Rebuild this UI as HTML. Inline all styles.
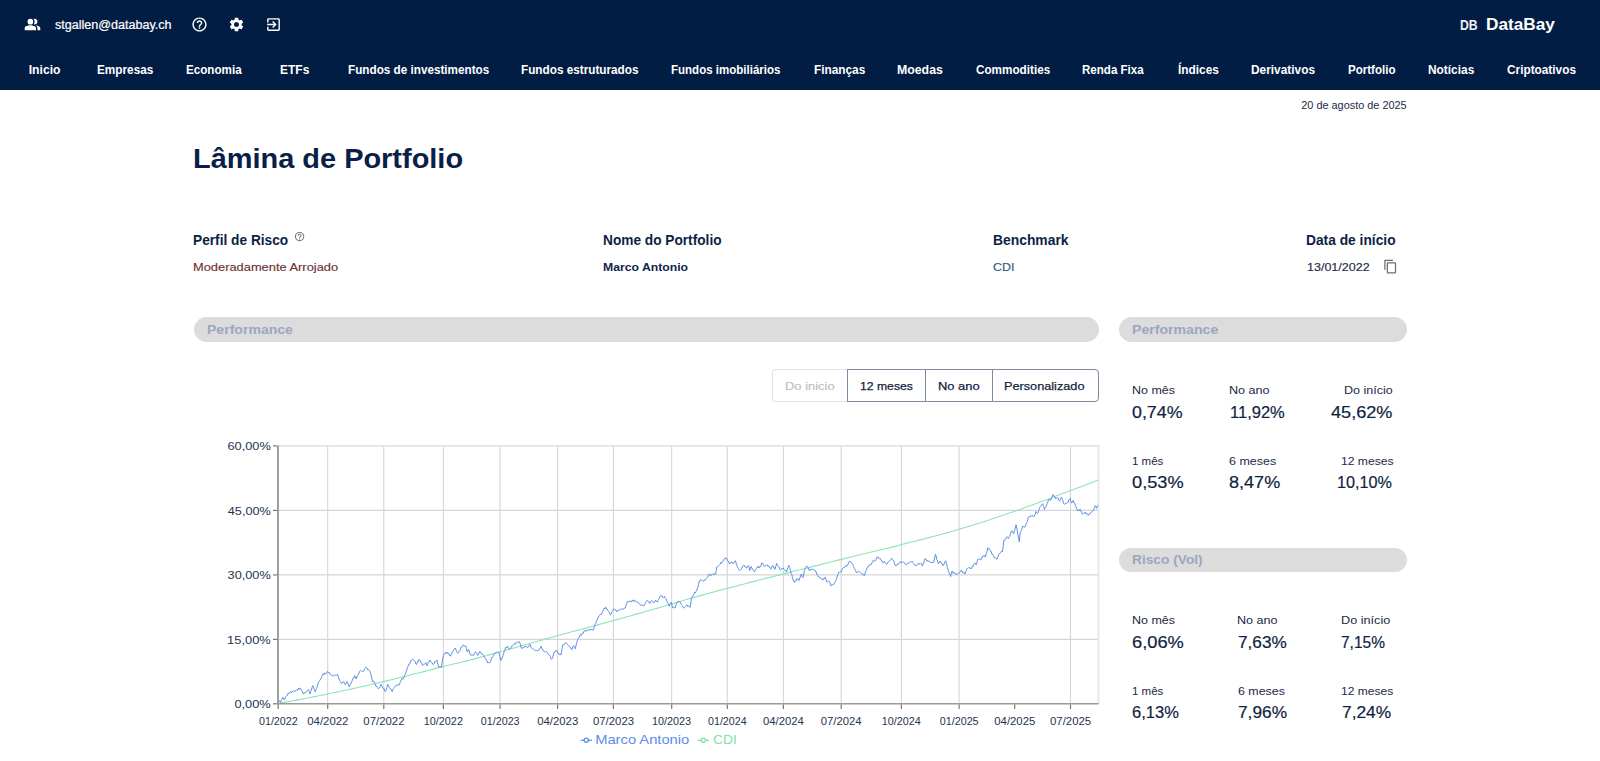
<!DOCTYPE html>
<html lang="pt-BR">
<head>
<meta charset="utf-8">
<title>DataBay - Lâmina de Portfolio</title>
<style>
*{box-sizing:border-box;margin:0;padding:0}
html,body{width:1600px;height:761px;overflow:hidden;background:#fff}
body{font-family:"Liberation Sans",sans-serif;position:relative;color:#0c1f45;-webkit-font-smoothing:antialiased}
span,h1,a,button,p{position:absolute;transform-origin:0 0;white-space:nowrap;font-weight:400;font-family:inherit;background:none;border:0;text-decoration:none;display:block}
header{position:absolute;left:0;top:0;width:1600px;height:90px;background:#021d44}
header svg{position:absolute;fill:#fff}
main{position:absolute;left:0;top:90px;width:1600px;height:671px}
main>section,main>div{position:absolute;left:0;top:-90px;width:1600px;height:761px;pointer-events:none}
.ico{position:absolute}
.pill{position:absolute;background:#dcdcdc;border-radius:13px}
.bg{position:absolute;top:369px;height:33.4px;border:1px solid #7f899f;background:#fff}
.bg.dis{border-color:#e2e3e6}
svg.chart{position:absolute;left:0;top:0}
</style>
</head>
<body>
<header>
<svg class="ico" style="left:24.3px;top:15.9px" width="17" height="17" viewBox="0 0 24 24"><path fill-rule="evenodd" d="M16.67 13.13C18.04 14.06 19 15.32 19 17v3h4v-3c0-2.18-3.57-3.47-6.33-3.87z"/><circle cx="9" cy="8" r="4"/><path fill-rule="evenodd" d="M9 13c-2.67 0-8 1.34-8 4v3h16v-3c0-2.66-5.33-4-8-4zm6-1c2.21 0 4-1.79 4-4s-1.79-4-4-4c-.47 0-.91.1-1.33.24C14.5 5.27 15 6.58 15 8s-.5 2.73-1.33 3.76c.42.14.86.24 1.33.24z"/></svg>
<svg class="ico" style="left:191.1px;top:15.9px" width="17" height="17" viewBox="0 0 24 24"><path d="M11 18h2v-2h-2v2zm1-16C6.48 2 2 6.48 2 12s4.48 10 10 10 10-4.48 10-10S17.52 2 12 2zm0 18c-4.41 0-8-3.59-8-8s3.59-8 8-8 8 3.59 8 8-3.59 8-8 8zm0-14c-2.21 0-4 1.79-4 4h2c0-1.1.9-2 2-2s2 .9 2 2c0 2-3 1.75-3 5h2c0-2.25 3-2.5 3-5 0-2.21-1.79-4-4-4z"/></svg>
<svg class="ico" style="left:228.3px;top:15.95px" width="17" height="17" viewBox="0 0 24 24"><path d="M19.14 12.94c.04-.3.06-.61.06-.94 0-.32-.02-.64-.07-.94l2.03-1.58c.18-.14.23-.41.12-.61l-1.92-3.32c-.12-.22-.37-.29-.59-.22l-2.39.96c-.5-.38-1.03-.7-1.62-.94l-.36-2.54c-.04-.24-.24-.41-.48-.41h-3.84c-.24 0-.43.17-.47.41l-.36 2.54c-.59.24-1.13.57-1.62.94l-2.39-.96c-.22-.08-.47 0-.59.22L2.74 8.87c-.12.21-.08.47.12.61l2.03 1.58c-.05.3-.09.63-.09.94s.02.64.07.94l-2.03 1.58c-.18.14-.23.41-.12.61l1.92 3.32c.12.22.37.29.59.22l2.39-.96c.5.38 1.03.7 1.62.94l.36 2.54c.05.24.24.41.48.41h3.84c.24 0 .44-.17.47-.41l.36-2.54c.59-.24 1.13-.56 1.62-.94l2.39.96c.22.08.47 0 .59-.22l1.92-3.32c.12-.22.07-.47-.12-.61l-2.01-1.58zM12 15.6c-1.98 0-3.6-1.62-3.6-3.6s1.62-3.6 3.6-3.6 3.6 1.62 3.6 3.6-1.62 3.6-3.6 3.6z"/></svg>
<svg class="ico" style="left:265.25px;top:15.95px" width="17" height="17" viewBox="0 0 24 24"><path d="M10.09 15.59L11.5 17l5-5-5-5-1.41 1.41L12.67 11H3v2h9.67l-2.58 2.59zM19 3H5c-1.11 0-2 .9-2 2v4h2V5h14v14H5v-4H3v4c0 1.1.89 2 2 2h14c1.1 0 2-.9 2-2V5c0-1.1-.9-2-2-2z"/></svg>
<span style="left:54.65px;top:17.00px;font-size:12.3px;line-height:16px;color:#ffffff;-webkit-text-stroke:0.2px #ffffff;transform:scaleX(1.0214);">stgallen@databay.ch</span>
<span style="left:1460.18px;top:16.00px;font-size:14.3px;line-height:19px;color:#eef1f7;font-weight:700;transform:scaleX(0.8556);">DB</span>
<span style="left:1486.15px;top:14.00px;font-size:16.7px;line-height:22px;color:#ffffff;font-weight:700;transform:scaleX(1.0322);">DataBay</span>
<nav>
<a style="left:28.68px;top:62.00px;font-size:12.2px;line-height:16px;color:#ffffff;font-weight:700;">Inicio</a>
<a style="left:97.21px;top:62.00px;font-size:12.2px;line-height:16px;color:#ffffff;font-weight:700;transform:scaleX(0.9658);">Empresas</a>
<a style="left:185.72px;top:62.00px;font-size:12.2px;line-height:16px;color:#ffffff;font-weight:700;transform:scaleX(0.9563);">Economia</a>
<a style="left:280.20px;top:62.00px;font-size:12.2px;line-height:16px;color:#ffffff;font-weight:700;transform:scaleX(0.9831);">ETFs</a>
<a style="left:347.97px;top:62.00px;font-size:12.2px;line-height:16px;color:#ffffff;font-weight:700;transform:scaleX(0.9613);">Fundos de investimentos</a>
<a style="left:521.21px;top:62.00px;font-size:12.2px;line-height:16px;color:#ffffff;font-weight:700;transform:scaleX(0.9641);">Fundos estruturados</a>
<a style="left:670.98px;top:62.00px;font-size:12.2px;line-height:16px;color:#ffffff;font-weight:700;transform:scaleX(0.9456);">Fundos imobiliários</a>
<a style="left:813.71px;top:62.00px;font-size:12.2px;line-height:16px;color:#ffffff;font-weight:700;transform:scaleX(0.9704);">Finanças</a>
<a style="left:897.18px;top:62.00px;font-size:12.2px;line-height:16px;color:#ffffff;font-weight:700;transform:scaleX(1.0097);">Moedas</a>
<a style="left:975.77px;top:62.00px;font-size:12.2px;line-height:16px;color:#ffffff;font-weight:700;transform:scaleX(0.9613);">Commodities</a>
<a style="left:1082.48px;top:62.00px;font-size:12.2px;line-height:16px;color:#ffffff;font-weight:700;transform:scaleX(0.9488);">Renda Fixa</a>
<a style="left:1177.65px;top:62.00px;font-size:12.2px;line-height:16px;color:#ffffff;font-weight:700;transform:scaleX(0.9724);">Índices</a>
<a style="left:1250.95px;top:62.00px;font-size:12.2px;line-height:16px;color:#ffffff;font-weight:700;transform:scaleX(0.9743);">Derivativos</a>
<a style="left:1347.98px;top:62.00px;font-size:12.2px;line-height:16px;color:#ffffff;font-weight:700;transform:scaleX(0.9474);">Portfolio</a>
<a style="left:1427.95px;top:62.00px;font-size:12.2px;line-height:16px;color:#ffffff;font-weight:700;transform:scaleX(0.9760);">Notícias</a>
<a style="left:1506.51px;top:62.00px;font-size:12.2px;line-height:16px;color:#ffffff;font-weight:700;transform:scaleX(0.9699);">Criptoativos</a>
</nav>
</header>
<main>
<div class="pagehead">
<span style="left:1301.25px;top:98.00px;font-size:10.9px;line-height:14px;color:#1d2b49;">20 de agosto de 2025</span>
<h1 style="left:192.66px;top:141.00px;font-size:27.6px;line-height:36px;color:#0a1f47;font-weight:700;transform:scaleX(1.0485);">Lâmina de Portfolio</h1>
</div>
<section class="info">
<span style="left:192.83px;top:231.00px;font-size:14.0px;line-height:18px;color:#0d1f44;font-weight:700;transform:scaleX(0.9788);">Perfil de Risco</span>
<span style="left:192.69px;top:260.00px;font-size:11.8px;line-height:15px;color:#6f2f33;-webkit-text-stroke:0.15px #6f2f33;transform:scaleX(1.0899);">Moderadamente Arrojado</span>
<span style="left:602.58px;top:231.00px;font-size:14.0px;line-height:18px;color:#0d1f44;font-weight:700;transform:scaleX(0.9771);">Nome do Portfolio</span>
<span style="left:602.68px;top:260.00px;font-size:11.8px;line-height:15px;color:#10254d;font-weight:700;transform:scaleX(1.0354);">Marco Antonio</span>
<span style="left:992.57px;top:231.00px;font-size:14.0px;line-height:18px;color:#0d1f44;font-weight:700;transform:scaleX(0.9901);">Benchmark</span>
<span style="left:992.87px;top:260.00px;font-size:11.8px;line-height:15px;color:#315486;-webkit-text-stroke:0.15px #315486;transform:scaleX(1.0515);">CDI</span>
<span style="left:1306.18px;top:231.00px;font-size:14.0px;line-height:18px;color:#0d1f44;font-weight:700;transform:scaleX(0.9838);">Data de início</span>
<span style="left:1306.55px;top:260.00px;font-size:11.8px;line-height:15px;color:#1f2c47;-webkit-text-stroke:0.15px #1f2c47;transform:scaleX(1.0616);">13/01/2022</span>
<svg class="ico" style="left:293.8px;top:230.8px;fill:#6c6c6c" width="11.2" height="11.2" viewBox="0 0 24 24"><path d="M11 18h2v-2h-2v2zm1-16C6.48 2 2 6.48 2 12s4.48 10 10 10 10-4.48 10-10S17.52 2 12 2zm0 18c-4.41 0-8-3.59-8-8s3.59-8 8-8 8 3.59 8 8-3.59 8-8 8zm0-14c-2.210 0-4 1.79-4 4h2c0-1.1.9-2 2-2s2 .9 2 2c0 2-3 1.75-3 5h2c0-2.25 3-2.5 3-5 0-2.210-1.790-4-4-4z"/></svg>
<svg class="ico" style="left:1383.35px;top:259.3px;fill:#6e6e6e" width="15" height="15" viewBox="0 0 24 24"><path d="M16 1H4c-1.100 0-2 .9-2 2v14h2V3h12V1zm3 4H8c-1.100 0-2 .9-2 2v14c0 1.100.9 2 2 2h11c1.100 0 2-.9 2-2V7c0-1.100-.9-2-2-2zm0 16H8V7h11v14z"/></svg>
</section>
<section class="chart-card">
<div class="pill" style="left:193.8px;top:317.2px;width:905px;height:24.7px"></div>
<span style="left:206.76px;top:321.00px;font-size:13.3px;line-height:17px;color:#9ba7bf;font-weight:700;transform:scaleX(1.0569);">Performance</span>
<div class="bg dis" style="left:772.2px;width:76px;border-radius:4px 0 0 4px;border-right:0"></div>
<div class="bg" style="left:846.7px;width:79.2px"></div>
<div class="bg" style="left:924.9px;width:68.1px"></div>
<div class="bg" style="left:992px;width:107px;border-radius:0 4px 4px 0"></div>
<span style="left:784.59px;top:379.00px;font-size:11.8px;line-height:15px;color:#bdbdbd;-webkit-text-stroke:0.15px #bdbdbd;transform:scaleX(1.0974);">Do inicio</span>
<span style="left:859.77px;top:379.00px;font-size:11.8px;line-height:15px;color:#14233f;-webkit-text-stroke:0.25px #14233f;transform:scaleX(1.0335);">12 meses</span>
<span style="left:937.64px;top:379.00px;font-size:11.8px;line-height:15px;color:#14233f;-webkit-text-stroke:0.25px #14233f;transform:scaleX(1.0934);">No ano</span>
<span style="left:1004.46px;top:379.00px;font-size:11.8px;line-height:15px;color:#14233f;-webkit-text-stroke:0.25px #14233f;transform:scaleX(1.0764);">Personalizado</span>
<svg class="chart" width="1600" height="761" viewBox="0 0 1600 761" font-family="Liberation Sans, sans-serif">
<g class="grid" stroke="#d5d5d5" stroke-width="1.1" fill="none">
<line x1="278.0" y1="510.4" x2="1098.5" y2="510.4"/>
<line x1="278.0" y1="574.9" x2="1098.5" y2="574.9"/>
<line x1="278.0" y1="639.4" x2="1098.5" y2="639.4"/>
<line x1="327.7" y1="445.9" x2="327.7" y2="703.8"/>
<line x1="383.8" y1="445.9" x2="383.8" y2="703.8"/>
<line x1="443.4" y1="445.9" x2="443.4" y2="703.8"/>
<line x1="500.1" y1="445.9" x2="500.1" y2="703.8"/>
<line x1="557.6" y1="445.9" x2="557.6" y2="703.8"/>
<line x1="613.4" y1="445.9" x2="613.4" y2="703.8"/>
<line x1="671.7" y1="445.9" x2="671.7" y2="703.8"/>
<line x1="727.3" y1="445.9" x2="727.3" y2="703.8"/>
<line x1="783.4" y1="445.9" x2="783.4" y2="703.8"/>
<line x1="841.2" y1="445.9" x2="841.2" y2="703.8"/>
<line x1="901.4" y1="445.9" x2="901.4" y2="703.8"/>
<line x1="959.1" y1="445.9" x2="959.1" y2="703.8"/>
<line x1="1070.5" y1="445.9" x2="1070.5" y2="703.8"/>
</g>
<path d="M278.0 445.9H1098.5V703.8" stroke="#e4e4e4" stroke-width="1.7" fill="none"/>
<polyline class="cdi" points="278.3,703.5 280.6,703.1 283.5,702.5 286.9,701.9 290.7,701.2 294.8,700.4 299.2,699.6 303.8,698.7 308.5,697.8 313.3,696.9 318.0,696.0 322.7,695.0 327.2,694.1 331.0,693.3 334.8,692.5 338.7,691.7 342.7,690.8 346.7,690.0 350.7,689.1 354.8,688.2 358.9,687.3 363.0,686.4 367.1,685.5 371.2,684.5 375.4,683.5 379.5,682.6 383.7,681.6 387.9,680.6 392.3,679.5 396.7,678.4 401.2,677.3 405.8,676.2 410.3,675.0 414.8,673.8 419.3,672.7 423.7,671.6 428.0,670.5 432.2,669.4 436.2,668.4 439.9,667.4 443.5,666.5 448.4,665.3 452.4,664.3 455.9,663.5 459.1,662.7 462.2,662.0 465.7,661.1 469.6,660.2 474.3,658.9 480.0,657.4 483.1,656.5 486.5,655.6 490.2,654.6 494.0,653.5 498.0,652.4 502.2,651.3 506.5,650.0 510.8,648.8 515.3,647.6 519.8,646.3 524.3,645.0 528.8,643.7 533.2,642.5 537.6,641.3 541.9,640.1 546.0,638.9 550.0,637.8 553.9,636.7 557.5,635.7 562.5,634.3 567.3,633.0 571.8,631.8 576.2,630.6 580.5,629.5 584.6,628.4 588.7,627.3 592.7,626.2 596.8,625.1 600.8,624.0 604.9,622.9 609.1,621.8 613.4,620.6 617.6,619.4 621.9,618.2 626.4,617.0 630.9,615.7 635.5,614.4 640.1,613.1 644.6,611.8 649.1,610.5 653.4,609.3 657.5,608.1 661.4,607.0 665.0,606.0 668.3,605.0 671.2,604.2 678.2,602.1 681.9,601.0 684.9,600.0 690.0,598.5 693.2,597.6 696.7,596.6 700.4,595.6 704.4,594.5 708.5,593.4 712.9,592.2 717.6,590.9 722.4,589.6 727.5,588.3 730.9,587.4 734.5,586.5 738.3,585.5 742.1,584.5 746.1,583.5 750.2,582.4 754.3,581.4 758.5,580.3 762.7,579.2 766.9,578.1 771.2,577.1 775.3,576.0 779.5,574.9 783.6,573.9 787.7,572.9 791.7,571.8 795.8,570.8 799.9,569.8 804.0,568.7 808.1,567.7 812.2,566.6 816.3,565.6 820.4,564.6 824.5,563.5 828.7,562.5 832.8,561.5 836.9,560.4 841.1,559.4 845.3,558.4 849.4,557.3 853.6,556.3 857.8,555.3 862.0,554.3 866.2,553.3 870.5,552.3 874.7,551.3 878.9,550.2 883.1,549.2 887.3,548.2 891.6,547.1 895.8,546.1 900.0,545.0 904.2,543.9 908.5,542.8 912.7,541.8 916.9,540.7 921.2,539.6 925.5,538.5 929.7,537.4 933.9,536.3 938.2,535.2 942.4,534.0 946.6,532.9 950.8,531.7 955.0,530.5 959.1,529.3 963.2,528.1 967.3,526.8 971.4,525.6 975.5,524.3 979.5,523.0 983.6,521.7 987.6,520.4 991.6,519.1 995.6,517.7 999.6,516.4 1003.6,515.0 1007.6,513.7 1011.6,512.3 1015.6,510.9 1020.0,509.4 1024.4,507.8 1029.0,506.1 1033.6,504.4 1038.2,502.7 1042.7,501.1 1047.2,499.4 1051.6,497.7 1055.9,496.1 1060.0,494.6 1063.8,493.1 1067.5,491.8 1070.8,490.5 1077.3,488.1 1083.1,485.9 1088.0,484.0 1092.3,482.4 1095.7,481.0 1098.4,480.0" fill="none" stroke="#8fe3b8" stroke-width="1.1" stroke-linejoin="round"/>
<polyline class="portfolio" points="278.5,702.0 279.2,700.7 279.9,701.3 280.5,702.6 281.2,700.2 281.8,699.4 282.5,697.4 283.1,697.4 283.8,699.2 284.5,700.0 285.1,698.4 285.8,696.5 286.4,696.1 287.1,695.4 287.7,693.8 288.4,694.0 289.1,692.6 289.7,692.8 290.4,691.7 291.0,692.1 291.7,692.7 292.3,691.0 293.0,691.5 293.7,690.7 294.3,691.2 295.0,691.6 295.6,690.6 296.3,690.2 296.9,689.6 297.6,690.5 298.3,688.3 298.9,689.6 299.6,688.1 300.2,688.2 300.9,688.8 301.5,690.1 302.2,691.7 302.9,693.4 303.5,693.9 304.2,692.5 304.8,693.1 305.5,692.8 306.1,692.2 306.8,690.9 307.5,690.4 308.1,689.5 308.8,690.2 309.4,691.7 310.1,694.1 310.7,691.4 311.4,690.2 312.0,687.5 312.7,685.6 313.4,686.8 314.0,689.0 314.7,690.4 315.3,692.1 316.0,689.6 316.6,688.4 317.3,686.1 318.0,683.6 318.6,681.9 319.3,681.4 319.9,680.2 320.6,679.0 321.2,678.2 321.9,676.4 322.6,674.4 323.2,673.8 323.9,675.0 324.5,673.1 325.2,673.7 325.8,673.1 326.5,673.3 327.2,671.6 327.8,671.8 328.5,672.4 329.1,672.2 329.8,674.1 330.4,674.4 331.1,675.2 331.8,675.2 332.4,676.1 333.1,675.7 333.7,675.2 334.4,675.8 335.0,675.4 335.7,675.0 336.4,675.0 337.0,674.5 337.7,674.4 338.3,677.0 339.0,679.2 339.6,680.3 340.3,681.3 341.0,682.8 341.6,683.6 342.3,682.1 342.9,682.7 343.6,681.6 344.2,682.8 344.9,684.4 345.6,684.2 346.2,683.6 346.9,681.6 347.5,682.5 348.2,684.0 348.8,685.9 349.5,686.9 350.2,684.4 350.8,683.8 351.5,681.8 352.1,681.0 352.8,678.9 353.4,677.4 354.1,677.6 354.8,675.7 355.4,676.6 356.1,679.0 356.7,677.0 357.4,675.7 358.0,674.4 358.7,674.1 359.4,671.6 360.0,671.3 360.7,670.4 361.3,670.7 362.0,671.5 362.6,671.6 363.3,671.1 364.0,670.8 364.6,668.7 365.3,668.0 365.9,667.2 366.6,667.5 367.2,669.2 367.9,670.0 368.6,669.8 369.2,670.2 369.9,671.3 370.5,673.1 371.2,675.4 371.8,678.2 372.5,681.6 373.2,681.3 373.8,681.0 374.5,682.9 375.1,684.0 375.8,686.2 376.4,685.9 377.1,687.4 377.8,687.9 378.4,688.8 379.1,687.8 379.7,687.5 380.4,685.8 381.0,684.2 381.7,685.6 382.4,687.1 383.0,688.2 383.7,689.4 384.3,688.9 385.0,691.4 385.6,691.5 386.3,689.6 387.0,687.4 387.6,684.2 388.3,686.0 388.9,686.3 389.6,687.5 390.2,688.8 390.9,688.9 391.6,690.9 392.2,691.5 392.9,689.4 393.5,688.3 394.2,687.4 394.8,686.9 395.5,685.9 396.1,685.9 396.8,685.0 397.5,685.6 398.1,684.3 398.8,684.4 399.4,684.9 400.1,682.4 400.7,681.1 401.4,679.6 402.1,678.3 402.7,679.5 403.4,678.3 404.0,677.2 404.7,675.0 405.3,674.4 406.0,671.9 406.7,670.1 407.3,668.2 408.0,666.5 408.6,664.4 409.3,664.6 409.9,663.5 410.6,661.2 411.3,659.9 411.9,660.0 412.6,659.4 413.2,659.5 413.9,660.1 414.5,660.6 415.2,661.4 415.9,663.9 416.5,664.5 417.2,662.5 417.8,661.0 418.5,661.5 419.1,659.3 419.8,660.5 420.5,660.9 421.1,662.9 421.8,663.1 422.4,665.2 423.1,664.7 423.7,665.1 424.4,664.3 425.1,663.5 425.7,662.6 426.4,663.7 427.0,665.8 427.7,664.1 428.3,662.2 429.0,662.0 429.7,659.9 430.3,660.9 431.0,662.3 431.6,662.4 432.3,663.1 432.9,664.5 433.6,664.1 434.3,663.3 434.9,661.2 435.6,661.5 436.2,661.0 436.9,659.9 437.5,663.0 438.2,665.2 438.9,667.2 439.5,666.6 440.2,667.2 440.8,666.9 441.5,667.2 442.1,662.3 442.8,658.3 443.5,655.3 444.1,654.1 444.8,653.2 445.4,653.3 446.1,652.0 446.7,653.3 447.4,652.6 448.1,653.9 448.7,653.4 449.4,655.2 450.0,656.0 450.7,656.0 451.3,654.4 452.0,652.8 452.7,652.0 453.3,650.5 454.0,649.5 454.6,648.5 455.3,648.1 455.9,649.7 456.6,651.5 457.3,652.7 457.9,653.4 458.6,652.2 459.2,651.4 459.9,650.5 460.5,648.8 461.2,646.9 461.9,647.1 462.5,646.6 463.2,644.8 463.8,645.7 464.5,646.0 465.1,645.8 465.8,646.1 466.5,648.5 467.1,652.0 467.8,651.3 468.4,649.4 469.1,650.6 469.7,653.0 470.4,654.8 471.1,655.3 471.7,655.0 472.4,654.8 473.0,655.7 473.7,654.7 474.3,654.3 475.0,652.3 475.7,652.0 476.3,652.4 477.0,653.5 477.6,655.3 478.3,654.8 478.9,653.3 479.6,651.4 480.0,652.1 480.7,651.9 481.3,653.8 482.0,654.6 482.6,654.1 483.3,655.5 483.9,656.0 484.6,657.4 485.3,658.6 485.9,658.9 486.6,659.9 487.2,662.0 487.9,663.1 488.5,662.6 489.2,662.5 489.9,662.6 490.5,661.8 491.2,659.0 491.8,657.4 492.5,657.3 493.1,656.4 493.8,654.3 494.5,654.1 495.1,653.1 495.8,652.7 496.4,652.1 497.1,652.1 497.7,652.5 498.4,652.1 499.1,652.8 499.9,656.6 500.8,660.7 501.5,658.2 502.3,658.0 503.0,655.4 503.7,653.2 504.3,651.4 505.0,649.7 505.6,647.5 506.3,647.9 506.9,646.5 507.6,646.2 508.3,648.1 508.9,648.4 509.6,649.5 510.2,648.7 510.9,647.9 511.5,646.1 512.2,646.2 512.9,645.6 513.5,644.6 514.2,643.7 514.8,644.2 515.5,644.2 516.1,642.3 516.8,642.3 517.5,642.1 518.1,642.4 518.8,641.9 519.4,641.6 520.1,643.5 520.7,646.0 521.4,648.2 522.0,648.1 522.7,648.4 523.4,646.9 524.0,647.5 524.7,647.0 525.3,646.2 526.0,646.2 526.6,646.6 527.3,647.5 528.0,647.3 528.6,645.9 529.3,645.2 529.9,644.2 530.6,646.1 531.2,647.7 531.9,648.2 532.6,648.6 533.2,649.4 533.9,649.7 534.5,650.2 535.2,650.3 535.8,650.8 536.5,650.5 537.2,650.7 537.8,650.8 538.5,649.9 539.1,649.9 539.8,648.5 540.4,647.9 541.1,646.2 541.8,648.6 542.4,648.8 543.1,650.8 543.7,651.1 544.4,652.0 545.0,652.0 545.7,651.5 546.4,651.4 547.0,652.0 547.7,653.3 548.3,654.1 549.0,654.3 549.6,655.7 550.3,656.4 551.0,658.6 551.6,659.4 552.3,658.2 552.9,656.6 553.6,654.1 554.4,652.1 555.2,651.9 556.0,650.2 556.7,651.3 557.4,651.1 558.1,653.4 558.8,653.4 559.5,654.8 560.2,653.8 560.8,654.8 561.5,652.4 562.1,648.0 562.8,644.9 563.4,644.4 564.1,644.9 564.8,644.1 565.4,642.9 566.1,642.7 566.7,643.7 567.4,644.2 568.0,645.1 568.7,645.6 569.4,646.1 570.0,647.5 570.7,647.8 571.3,649.3 572.0,649.5 572.8,646.6 573.6,645.6 574.4,647.3 575.3,648.8 575.9,646.1 576.6,642.6 577.2,641.0 577.9,639.3 578.6,638.6 579.2,637.0 579.9,635.7 580.5,634.2 581.2,635.4 581.8,634.3 582.5,633.1 583.2,633.5 583.8,631.3 584.5,631.1 585.1,631.1 585.8,630.0 586.4,631.3 587.1,630.2 587.8,630.4 588.4,629.4 589.1,629.6 589.7,630.3 590.4,629.1 591.0,630.1 591.7,629.3 592.4,629.4 593.0,630.4 593.7,629.3 594.3,626.6 595.0,624.5 595.6,623.6 596.3,621.1 597.0,620.6 597.6,618.2 598.3,617.9 598.9,616.0 599.6,615.4 600.2,614.3 600.9,614.7 601.6,614.2 602.2,612.3 602.9,611.3 603.5,609.4 604.2,608.1 604.8,609.1 605.5,607.1 606.1,607.5 606.8,609.3 607.5,609.5 608.1,610.7 608.8,611.4 609.4,612.8 610.1,614.5 610.7,614.7 611.4,612.9 612.1,611.3 612.7,610.8 613.4,609.4 614.0,609.1 614.7,609.1 615.3,610.1 616.0,610.4 616.7,612.0 617.3,610.7 618.0,610.5 618.6,610.2 619.3,610.1 619.9,609.3 620.6,609.7 621.3,608.8 621.9,608.6 622.6,609.2 623.2,609.4 623.9,608.3 624.5,608.2 625.2,608.1 625.9,605.4 626.5,604.1 627.2,602.9 627.8,601.2 628.5,602.0 629.1,600.9 629.8,601.4 630.5,601.1 631.1,602.2 631.8,601.2 632.4,600.2 633.1,601.3 633.7,599.8 634.4,601.4 635.1,600.9 635.7,601.1 636.4,601.5 637.0,602.5 637.7,602.2 638.3,602.5 639.0,603.3 639.7,604.1 640.3,605.3 641.0,604.8 641.6,604.6 642.3,605.7 642.9,605.6 643.6,605.6 644.3,605.5 644.9,604.0 645.6,602.5 646.2,601.5 646.9,600.3 647.5,600.9 648.2,601.0 648.9,601.8 649.5,603.5 650.2,603.1 650.8,601.3 651.5,600.9 652.1,600.9 652.8,601.4 653.5,602.9 654.1,602.7 654.8,601.8 655.4,600.2 656.1,601.2 656.7,601.1 657.4,602.2 658.1,600.4 658.7,599.2 659.4,598.2 660.0,596.3 660.7,595.6 661.3,595.8 662.0,595.8 662.7,597.5 663.3,596.9 664.0,597.6 664.6,596.3 665.3,597.7 665.9,598.4 666.6,600.2 667.3,602.6 667.9,602.8 668.6,604.4 669.2,606.1 669.9,603.8 670.5,603.3 671.2,602.2 671.9,604.8 672.5,607.5 673.2,607.6 673.8,607.2 674.5,608.0 675.1,608.1 675.8,605.1 676.5,603.7 677.1,602.2 677.8,601.2 678.4,601.6 679.1,601.5 679.7,601.5 680.4,602.3 681.1,604.2 681.7,604.8 682.4,605.6 683.0,607.3 683.7,608.1 684.3,607.5 685.0,607.3 685.7,606.5 686.3,605.9 687.0,604.8 687.7,606.2 688.5,605.9 689.2,606.4 690.0,607.5 690.7,604.1 691.3,598.8 692.0,596.8 692.6,596.7 693.3,594.9 693.9,594.4 694.6,592.3 695.3,593.1 695.9,591.6 696.6,590.9 697.2,588.8 697.9,587.0 698.5,584.5 699.2,581.1 699.9,581.3 700.5,579.5 701.2,579.8 701.8,580.3 702.5,580.7 703.1,581.1 703.8,581.1 704.5,579.8 705.1,580.0 705.8,579.6 706.4,578.5 707.1,577.5 707.7,577.0 708.4,575.4 709.1,573.9 709.7,574.9 710.4,574.7 711.0,575.8 711.7,574.5 712.3,574.2 713.0,574.5 713.7,574.1 714.3,573.4 715.0,574.7 715.6,573.9 716.3,570.4 716.9,566.6 717.6,566.4 718.3,565.9 718.9,565.5 719.6,564.7 720.2,564.0 720.9,562.4 721.5,563.3 722.2,562.0 722.9,561.6 723.5,560.1 724.2,559.2 724.8,558.1 725.5,558.6 726.1,557.7 726.8,558.8 727.5,560.6 728.1,560.9 728.8,561.9 729.4,564.0 730.1,562.9 730.7,563.2 731.4,562.0 732.0,561.9 732.7,563.4 733.4,563.4 734.0,563.4 734.7,561.6 735.3,560.7 736.0,562.5 736.6,564.6 737.3,566.6 738.1,568.3 738.9,569.8 739.7,570.6 740.4,569.9 741.2,569.1 741.9,568.0 742.6,566.2 743.2,565.5 743.9,565.3 744.5,565.5 745.2,567.1 745.8,566.9 746.5,568.0 747.2,567.4 747.8,565.7 748.5,566.0 749.1,567.4 749.8,570.6 750.4,568.2 751.1,566.6 751.8,568.0 752.4,569.1 753.1,570.2 753.7,570.4 754.4,571.9 755.0,570.8 755.7,569.5 756.4,568.4 757.0,567.3 757.7,566.4 758.3,567.8 759.0,566.3 759.6,567.7 760.3,566.6 761.0,566.2 761.6,563.1 762.3,562.7 762.9,563.7 763.6,565.5 764.2,566.0 764.9,566.7 765.6,565.5 766.2,565.3 766.9,565.0 767.5,565.1 768.2,566.7 768.8,566.0 769.5,566.5 770.2,568.3 770.8,569.3 771.5,567.2 772.1,566.7 772.8,565.3 773.4,567.6 774.1,567.2 774.8,569.3 775.4,567.9 776.1,565.4 776.7,563.4 777.4,565.3 778.0,566.1 778.7,566.3 779.4,568.0 780.0,569.7 780.7,569.9 781.3,569.5 782.0,568.1 782.6,568.6 783.3,568.1 784.0,569.5 784.6,569.9 785.3,570.5 785.9,570.9 786.6,571.9 787.3,569.0 788.1,567.2 788.8,565.3 789.7,567.6 790.5,570.6 791.2,573.7 791.8,574.4 792.5,577.8 793.2,579.9 793.8,581.6 794.5,582.4 795.1,580.7 795.8,581.3 796.4,579.9 797.1,578.5 797.8,579.9 798.4,579.4 799.1,580.4 799.9,578.0 800.6,575.9 801.4,573.9 802.2,576.8 803.0,577.8 803.7,574.4 804.3,570.6 805.0,569.2 805.6,568.1 806.3,566.7 807.0,566.0 807.6,566.4 808.3,567.8 808.9,569.9 809.6,570.4 810.2,569.2 810.9,570.3 811.6,569.3 812.2,568.9 812.9,569.1 813.5,569.8 814.2,569.9 814.8,570.0 815.5,571.0 816.1,571.9 816.8,574.1 817.5,575.3 818.1,575.8 818.8,577.0 819.4,577.1 820.1,578.2 820.7,577.8 821.4,579.2 822.1,578.9 822.7,579.7 823.4,579.8 824.0,578.0 824.7,578.5 825.3,577.2 826.0,579.4 826.7,581.8 827.3,582.0 828.0,581.6 828.6,581.1 829.3,581.8 829.9,582.5 830.6,585.4 831.3,585.7 831.9,584.6 832.6,585.0 833.2,584.4 833.9,584.4 834.5,582.7 835.2,582.2 835.9,580.4 836.5,579.4 837.2,576.0 837.8,574.8 838.5,572.6 839.1,572.0 839.8,572.3 840.5,571.9 841.1,571.9 841.8,570.1 842.4,568.9 843.1,567.9 843.7,567.3 844.4,567.7 845.1,566.5 845.7,565.6 846.4,566.5 847.0,565.3 847.7,565.3 848.3,563.3 849.0,561.7 849.7,561.4 850.3,561.4 851.0,561.9 851.6,563.0 852.3,564.0 852.9,564.7 853.6,566.6 854.3,568.6 854.9,569.1 855.6,570.7 856.2,572.4 856.9,572.6 857.5,572.6 858.2,571.5 858.9,571.2 859.5,571.7 860.2,572.6 860.8,573.2 861.5,573.5 862.1,573.9 862.8,573.9 863.5,574.9 864.1,575.8 864.8,575.0 865.4,571.6 866.1,570.6 866.7,569.1 867.4,567.8 868.1,566.0 868.7,566.5 869.4,564.9 870.0,564.7 870.7,564.4 871.3,564.7 872.0,562.9 872.7,561.5 873.3,560.1 874.0,561.2 874.6,561.2 875.3,560.7 875.9,560.4 876.6,557.6 877.3,557.5 877.9,556.7 878.6,558.2 879.2,558.7 879.9,558.1 880.5,559.2 881.2,560.6 881.9,560.6 882.5,562.7 883.2,562.1 883.8,562.7 884.5,561.4 885.1,562.7 885.8,563.4 886.5,564.3 887.1,564.0 887.8,562.7 888.4,561.6 889.1,560.9 889.7,560.7 890.4,559.9 891.1,559.3 891.7,558.1 892.4,559.9 893.0,560.3 893.7,560.7 894.3,562.8 895.0,564.8 895.7,566.0 896.3,565.4 897.0,565.1 897.6,563.6 898.3,564.0 899.1,563.6 900.0,562.0 900.6,561.5 901.3,562.9 902.0,562.4 902.6,562.1 903.3,562.2 903.9,562.3 904.6,562.9 905.3,564.2 905.9,564.7 906.6,564.8 907.2,563.5 907.9,563.0 908.5,563.4 909.2,563.0 909.9,562.2 910.5,561.4 911.2,561.5 911.8,562.2 912.5,561.6 913.1,562.8 913.8,563.6 914.5,565.2 915.1,565.1 915.8,565.4 916.4,565.8 917.1,564.6 917.7,563.8 918.4,563.4 919.1,564.5 919.7,563.6 920.4,562.8 921.0,563.5 921.7,564.0 922.3,566.1 923.0,564.3 923.7,562.8 924.3,560.5 925.0,558.8 925.6,558.9 926.3,560.2 926.9,561.3 927.6,560.4 928.3,561.5 928.9,560.8 929.6,561.7 930.2,562.1 930.9,562.9 931.5,562.8 932.2,562.0 932.9,562.9 933.5,562.1 934.2,560.0 934.8,556.9 935.5,554.2 936.1,556.0 936.8,559.8 937.5,560.8 938.1,563.4 938.8,563.4 939.4,561.6 940.1,561.5 940.7,561.7 941.4,563.6 942.0,563.4 942.7,565.5 943.4,565.4 944.2,563.9 944.9,561.7 945.7,560.8 946.5,563.5 947.3,567.4 948.0,569.1 948.6,571.4 949.3,573.8 949.9,574.0 950.6,576.6 951.2,573.7 951.9,571.3 952.6,571.3 953.2,573.4 953.9,572.3 954.5,572.6 955.2,573.2 955.8,574.6 956.5,573.9 957.2,574.4 957.8,573.9 958.5,573.1 959.1,573.1 959.8,572.5 960.4,570.8 961.1,570.7 961.8,570.6 962.4,572.6 963.1,572.8 963.7,571.9 964.4,573.7 965.0,574.0 965.7,572.0 966.4,570.2 967.0,568.7 967.7,568.3 968.3,567.8 969.0,567.4 969.6,567.9 970.3,567.9 971.0,569.0 971.6,568.0 972.3,566.2 972.9,566.9 973.6,564.3 974.2,563.6 974.9,562.8 975.6,564.4 976.2,564.8 976.9,562.8 977.5,559.5 978.2,559.4 978.8,558.6 979.5,559.4 980.2,559.2 980.8,559.5 981.5,559.4 982.1,556.9 982.8,556.3 983.4,555.6 984.1,556.8 984.8,555.5 985.4,556.9 986.2,553.6 987.0,551.4 987.8,547.7 988.5,549.2 989.2,548.7 989.9,549.7 990.7,551.6 991.3,551.7 992.0,554.4 992.6,554.1 993.3,555.6 994.0,556.8 994.6,557.9 995.3,557.6 995.9,558.3 996.6,559.5 997.2,558.9 997.9,556.8 998.6,554.6 999.2,553.6 999.9,553.6 1000.5,552.4 1001.2,552.0 1001.8,551.0 1002.5,551.6 1003.2,546.5 1003.8,540.4 1004.5,540.5 1005.1,539.1 1005.8,538.9 1006.4,537.2 1007.1,536.6 1007.8,537.5 1008.4,538.5 1009.1,536.8 1009.7,536.2 1010.4,534.7 1011.0,531.9 1011.7,530.6 1012.4,531.2 1013.0,532.6 1013.7,533.9 1014.5,530.8 1015.2,528.6 1016.0,524.7 1016.8,528.0 1017.6,532.6 1018.5,537.8 1019.3,541.8 1020.2,532.6 1020.9,531.4 1021.6,529.9 1022.2,528.2 1022.9,526.0 1023.5,526.6 1024.2,526.5 1024.8,527.3 1025.5,525.4 1026.1,524.0 1026.8,522.7 1027.5,521.3 1028.1,517.9 1028.8,516.8 1029.4,516.0 1030.1,517.0 1030.7,515.8 1031.4,516.1 1032.1,515.4 1032.7,515.5 1033.4,516.7 1034.0,516.8 1034.7,514.7 1035.3,514.3 1036.0,511.5 1036.7,512.7 1037.3,513.4 1038.0,512.9 1038.6,510.7 1039.3,508.7 1039.9,507.1 1040.6,506.3 1041.3,505.4 1041.9,504.9 1042.6,503.7 1043.2,505.5 1043.9,507.1 1044.5,509.6 1045.2,507.8 1045.9,506.5 1046.5,505.0 1047.2,503.5 1047.8,502.0 1048.5,499.7 1049.1,500.0 1049.8,499.0 1050.5,500.4 1051.1,499.7 1051.8,497.5 1052.4,496.3 1053.1,494.5 1053.7,495.4 1054.4,497.2 1055.1,497.3 1055.7,499.1 1056.4,498.1 1057.0,497.7 1057.7,497.7 1058.3,498.1 1059.0,500.7 1059.7,501.0 1060.5,499.2 1061.4,497.1 1062.1,498.5 1062.8,500.5 1063.5,503.5 1064.3,504.3 1064.9,503.9 1065.6,503.0 1066.2,503.7 1066.9,503.0 1067.5,502.3 1068.2,502.3 1068.9,499.6 1069.5,499.3 1070.2,498.4 1070.8,501.3 1071.5,503.0 1072.3,502.4 1073.2,500.4 1073.9,502.9 1074.7,503.0 1075.4,505.6 1076.1,507.0 1076.7,508.4 1077.4,510.9 1078.1,509.8 1078.7,510.8 1079.4,509.6 1080.0,508.9 1080.7,511.1 1081.3,511.3 1082.0,513.6 1082.7,514.2 1083.3,513.6 1084.0,512.7 1084.6,513.2 1085.3,512.2 1085.9,513.9 1086.6,513.0 1087.3,514.9 1087.9,515.5 1088.6,515.2 1089.2,513.9 1089.9,513.7 1090.5,513.5 1091.2,512.1 1091.9,511.6 1092.5,511.0 1093.2,510.9 1093.8,509.3 1094.5,507.7 1095.1,505.6 1095.8,506.3 1096.5,508.3 1097.1,506.2 1097.8,505.7 1098.4,505.0" fill="none" stroke="#5f90e5" stroke-width="1" stroke-linejoin="round"/>
<g class="axes" stroke="#9a9a9a" fill="none">
<line x1="278.0" y1="445.59999999999997" x2="278.0" y2="704.5999999999999" stroke-width="1.9"/>
<line x1="277.0" y1="703.8" x2="1098.5" y2="703.8" stroke-width="1.6"/>
</g>
<g class="ticks" stroke="#777777" stroke-width="1.2" fill="none">
<line x1="273.0" y1="445.9" x2="277.1" y2="445.9"/>
<line x1="273.0" y1="510.4" x2="277.1" y2="510.4"/>
<line x1="273.0" y1="574.9" x2="277.1" y2="574.9"/>
<line x1="273.0" y1="639.4" x2="277.1" y2="639.4"/>
<line x1="273.0" y1="703.8" x2="277.1" y2="703.8"/>
<line x1="278.2" y1="704.5" x2="278.2" y2="709.0"/>
<line x1="327.7" y1="704.5" x2="327.7" y2="709.0"/>
<line x1="383.8" y1="704.5" x2="383.8" y2="709.0"/>
<line x1="443.4" y1="704.5" x2="443.4" y2="709.0"/>
<line x1="500.1" y1="704.5" x2="500.1" y2="709.0"/>
<line x1="557.6" y1="704.5" x2="557.6" y2="709.0"/>
<line x1="613.4" y1="704.5" x2="613.4" y2="709.0"/>
<line x1="671.7" y1="704.5" x2="671.7" y2="709.0"/>
<line x1="727.3" y1="704.5" x2="727.3" y2="709.0"/>
<line x1="783.4" y1="704.5" x2="783.4" y2="709.0"/>
<line x1="841.2" y1="704.5" x2="841.2" y2="709.0"/>
<line x1="901.4" y1="704.5" x2="901.4" y2="709.0"/>
<line x1="959.1" y1="704.5" x2="959.1" y2="709.0"/>
<line x1="1014.7" y1="704.5" x2="1014.7" y2="709.0"/>
<line x1="1070.5" y1="704.5" x2="1070.5" y2="709.0"/>
</g>
<g stroke="#5c8ee6" stroke-width="1.3" fill="none"><line x1="580.7" y1="740.3" x2="584.1" y2="740.3"/><circle cx="586.3" cy="740.3" r="2.1"/><line x1="588.5" y1="740.3" x2="591.9" y2="740.3"/></g>
<g stroke="#7fe0ae" stroke-width="1.3" fill="none"><line x1="697.7" y1="740.3" x2="701.1" y2="740.3"/><circle cx="703.3" cy="740.3" r="2.1"/><line x1="705.5" y1="740.3" x2="708.9" y2="740.3"/></g>
<g class="labels">
<text transform="translate(227.45 450.10) scale(1.1011 1)" font-size="11.6" fill="#24344f">60,00%</text>
<text transform="translate(227.81 514.60) scale(1.0919 1)" font-size="11.6" fill="#24344f">45,00%</text>
<text transform="translate(227.62 579.05) scale(1.0969 1)" font-size="11.6" fill="#24344f">30,00%</text>
<text transform="translate(227.12 643.55) scale(1.1096 1)" font-size="11.6" fill="#24344f">15,00%</text>
<text transform="translate(234.40 708.00) scale(1.1060 1)" font-size="11.6" fill="#24344f">0,00%</text>
<text transform="translate(258.93 724.60) scale(1.0748 1)" font-size="10.0" fill="#24344f">01/2022</text>
<text transform="translate(307.25 724.60) scale(1.1400 1)" font-size="10.0" fill="#24344f">04/2022</text>
<text transform="translate(363.35 724.60) scale(1.1400 1)" font-size="10.0" fill="#24344f">07/2022</text>
<text transform="translate(423.72 724.60) scale(1.0862 1)" font-size="10.0" fill="#24344f">10/2022</text>
<text transform="translate(480.83 724.60) scale(1.0729 1)" font-size="10.0" fill="#24344f">01/2023</text>
<text transform="translate(537.16 724.60) scale(1.1380 1)" font-size="10.0" fill="#24344f">04/2023</text>
<text transform="translate(592.96 724.60) scale(1.1380 1)" font-size="10.0" fill="#24344f">07/2023</text>
<text transform="translate(652.02 724.60) scale(1.0842 1)" font-size="10.0" fill="#24344f">10/2023</text>
<text transform="translate(708.03 724.60) scale(1.0684 1)" font-size="10.0" fill="#24344f">01/2024</text>
<text transform="translate(762.96 724.60) scale(1.1333 1)" font-size="10.0" fill="#24344f">04/2024</text>
<text transform="translate(820.76 724.60) scale(1.1333 1)" font-size="10.0" fill="#24344f">07/2024</text>
<text transform="translate(881.73 724.60) scale(1.0797 1)" font-size="10.0" fill="#24344f">10/2024</text>
<text transform="translate(939.83 724.60) scale(1.0723 1)" font-size="10.0" fill="#24344f">01/2025</text>
<text transform="translate(994.26 724.60) scale(1.1373 1)" font-size="10.0" fill="#24344f">04/2025</text>
<text transform="translate(1050.06 724.60) scale(1.1373 1)" font-size="10.0" fill="#24344f">07/2025</text>
<text transform="translate(595.19 743.80) scale(1.1072 1)" font-size="13.3" fill="#5c8ee6">Marco Antonio</text>
<text transform="translate(713.10 743.80) scale(1.0379 1)" font-size="13.3" fill="#7fe0ae">CDI</text>
</g>
</svg>
</section>
<section class="perf-card">
<div class="pill" style="left:1119px;top:317.2px;width:288px;height:24.7px"></div>
<span style="left:1131.66px;top:321.00px;font-size:13.3px;line-height:17px;color:#9ba7bf;font-weight:700;transform:scaleX(1.0606);">Performance</span>
<span style="left:1131.57px;top:383.00px;font-size:11.5px;line-height:15px;color:#1b2946;transform:scaleX(1.0871);">No mês</span>
<span style="left:1132.20px;top:402.00px;font-size:16.2px;line-height:21px;color:#101f3f;-webkit-text-stroke:0.2px #101f3f;transform:scaleX(1.1008);">0,74%</span>
<span style="left:1228.67px;top:383.00px;font-size:11.5px;line-height:15px;color:#1b2946;transform:scaleX(1.0934);">No ano</span>
<span style="left:1229.54px;top:402.00px;font-size:16.2px;line-height:21px;color:#101f3f;-webkit-text-stroke:0.2px #101f3f;transform:scaleX(1.0194);">11,92%</span>
<span style="left:1344.37px;top:383.00px;font-size:11.5px;line-height:15px;color:#1b2946;transform:scaleX(1.0906);">Do início</span>
<span style="left:1330.68px;top:402.00px;font-size:16.2px;line-height:21px;color:#101f3f;-webkit-text-stroke:0.2px #101f3f;transform:scaleX(1.1194);">45,62%</span>
<span style="left:1132.02px;top:454.00px;font-size:11.5px;line-height:15px;color:#1b2946;">1 mês</span>
<span style="left:1132.19px;top:472.00px;font-size:16.2px;line-height:21px;color:#101f3f;-webkit-text-stroke:0.2px #101f3f;transform:scaleX(1.1254);">0,53%</span>
<span style="left:1229.07px;top:454.00px;font-size:11.5px;line-height:15px;color:#1b2946;transform:scaleX(1.0855);">6 meses</span>
<span style="left:1229.22px;top:472.00px;font-size:16.2px;line-height:21px;color:#101f3f;-webkit-text-stroke:0.2px #101f3f;transform:scaleX(1.1149);">8,47%</span>
<span style="left:1340.68px;top:454.00px;font-size:11.5px;line-height:15px;color:#1b2946;transform:scaleX(1.0542);">12 meses</span>
<span style="left:1337.01px;top:472.00px;font-size:16.2px;line-height:21px;color:#101f3f;-webkit-text-stroke:0.2px #101f3f;">10,10%</span>
</section>
<section class="risk-card">
<div class="pill" style="left:1119px;top:548.1px;width:288px;height:24px"></div>
<span style="left:1131.68px;top:551.00px;font-size:13.3px;line-height:17px;color:#9ba7bf;font-weight:700;transform:scaleX(1.0326);">Risco (Vol)</span>
<span style="left:1131.57px;top:613.00px;font-size:11.5px;line-height:15px;color:#1b2946;transform:scaleX(1.0871);">No mês</span>
<span style="left:1131.97px;top:632.00px;font-size:16.2px;line-height:21px;color:#101f3f;-webkit-text-stroke:0.2px #101f3f;transform:scaleX(1.1302);">6,06%</span>
<span style="left:1237.47px;top:613.00px;font-size:11.5px;line-height:15px;color:#1b2946;transform:scaleX(1.0934);">No ano</span>
<span style="left:1238.12px;top:632.00px;font-size:16.2px;line-height:21px;color:#101f3f;-webkit-text-stroke:0.2px #101f3f;transform:scaleX(1.0630);">7,63%</span>
<span style="left:1340.56px;top:613.00px;font-size:11.5px;line-height:15px;color:#1b2946;transform:scaleX(1.1010);">Do início</span>
<span style="left:1341.40px;top:632.00px;font-size:16.2px;line-height:21px;color:#101f3f;-webkit-text-stroke:0.2px #101f3f;transform:scaleX(0.9573);">7,15%</span>
<span style="left:1132.02px;top:684.00px;font-size:11.5px;line-height:15px;color:#1b2946;">1 mês</span>
<span style="left:1132.06px;top:702.00px;font-size:16.2px;line-height:21px;color:#101f3f;-webkit-text-stroke:0.2px #101f3f;transform:scaleX(1.0201);">6,13%</span>
<span style="left:1238.07px;top:684.00px;font-size:11.5px;line-height:15px;color:#1b2946;transform:scaleX(1.0784);">6 meses</span>
<span style="left:1238.11px;top:702.00px;font-size:16.2px;line-height:21px;color:#101f3f;-webkit-text-stroke:0.2px #101f3f;transform:scaleX(1.0675);">7,96%</span>
<span style="left:1341.08px;top:684.00px;font-size:11.5px;line-height:15px;color:#1b2946;transform:scaleX(1.0460);">12 meses</span>
<span style="left:1341.51px;top:702.00px;font-size:16.2px;line-height:21px;color:#101f3f;-webkit-text-stroke:0.2px #101f3f;transform:scaleX(1.0697);">7,24%</span>
</section>
</main>
</body>
</html>
